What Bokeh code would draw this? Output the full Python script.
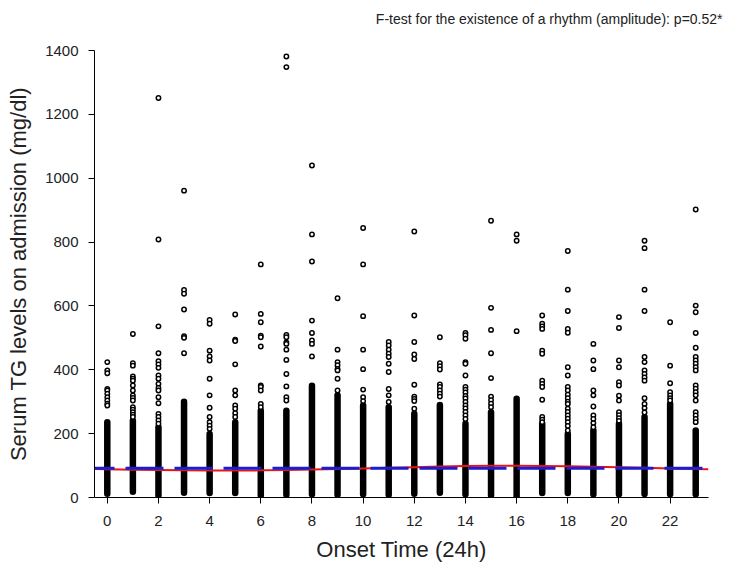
from bokeh.plotting import figure
from bokeh.models import Range1d, FixedTicker, Title
from bokeh.embed import file_html
from bokeh.resources import INLINE

hours = list(range(24))
dense_lo = [12, 18, 6, 15, 14, 14, 6, 9, 10, 9, 10, 9, 12, 15, 10, 6, 3, 14, 14, 10, 10, 11, 10, 10]
dense_hi = [236, 240, 220, 300, 199, 236, 272, 272, 350, 320, 288, 283, 262, 290, 231, 267, 309, 231, 199, 210, 231, 252, 293, 210]

sparse = {
    0: [424, 398, 389, 340, 335, 325, 314, 304, 294, 288],
    1: [512, 421, 413, 379, 372, 366, 351, 335, 320, 312, 304, 283, 275, 267, 259, 252],
    2: [1251, 808, 536, 452, 427, 417, 406, 382, 372, 356, 343, 335, 314, 295, 262, 252, 241, 231],
    3: [961, 650, 638, 589, 505, 500, 452],
    4: [556, 544, 460, 442, 429, 372, 320, 281, 252, 236, 225, 215],
    5: [573, 494, 490, 417, 335, 320, 288, 278, 264, 252],
    6: [730, 575, 549, 507, 502, 473, 351, 346, 335, 293, 283],
    7: [1381, 1348, 509, 502, 486, 481, 463, 431, 387, 348, 314, 304],
    8: [1040, 824, 739, 554, 515, 492, 481, 442],
    9: [624, 463, 424, 414, 403, 398, 372, 335],
    10: [844, 730, 568, 463, 402, 338, 314, 302],
    11: [487, 476, 463, 450, 440, 419, 393, 340, 320, 299],
    12: [833, 570, 487, 448, 434, 353, 316, 309, 302, 278],
    13: [502, 421, 411, 401, 354, 346, 335, 325, 316],
    14: [515, 508, 497, 424, 419, 382, 346, 338, 329, 318, 310, 299, 288, 279, 268, 257, 246],
    15: [867, 594, 525, 452, 374, 316, 305, 294, 283],
    16: [824, 804, 521],
    17: [570, 544, 536, 528, 460, 450, 366, 356, 346, 306, 252, 244, 236],
    18: [772, 651, 584, 528, 516, 408, 382, 346, 335, 322, 311, 300, 293, 278, 268, 257, 247, 236, 224, 210],
    19: [481, 429, 402, 335, 320, 285, 257, 246, 233, 220],
    20: [565, 531, 429, 408, 361, 351, 319, 304, 267, 258, 248, 240],
    21: [804, 781, 651, 584, 440, 424, 398, 387, 376, 366, 311, 293, 280, 266],
    22: [549, 413, 358, 330, 320, 311, 304],
    23: [902, 601, 580, 515, 469, 440, 429, 419, 408, 398, 351, 341, 330, 320, 304, 267, 257, 246, 236],
}

fit_x = [-0.5, 0, 1, 2, 3, 4, 5, 6, 7, 8, 9, 10, 11, 12, 13, 14, 15, 16, 17, 18, 19, 20, 21, 22, 23, 23.5]
fit_y = [89, 88.5, 87, 86, 85, 84.5, 84.5, 85, 86, 87.5, 89, 91, 93, 95, 97, 98.5, 99.5, 99.5, 99, 98, 96.5, 95, 93, 91, 89, 88.5]
mesor = 92

x_ticks = [0, 2, 4, 6, 8, 10, 12, 14, 16, 18, 20, 22]
y_ticks = [0, 200, 400, 600, 800, 1000, 1200, 1400]

FONT = "Liberation Sans"

p = figure(width=733, height=564, output_backend="svg", toolbar_location=None,
           x_range=Range1d(-0.5, 23.5), y_range=Range1d(0, 1400),
           min_border_left=94, min_border_right=25, min_border_top=50, min_border_bottom=67)
p.outline_line_color = None
p.grid.visible = False
p.background_fill_color = "white"

for ax, ticks in ((p.xaxis, x_ticks), (p.yaxis, y_ticks)):
    ax.ticker = FixedTicker(ticks=ticks)
    ax.minor_tick_line_color = None
    ax.major_tick_in = 0
    ax.major_tick_out = 6
    ax.axis_line_color = "black"
    ax.major_tick_line_color = "black"
    ax.major_label_text_font = FONT
    ax.major_label_text_font_size = "15px"
    ax.major_label_text_color = "#222222"
    ax.axis_label_text_font = FONT
    ax.axis_label_text_font_style = "normal"
    ax.axis_label_text_color = "#222222"

p.xaxis.axis_label = "Onset Time (24h)"
p.yaxis.axis_label = "Serum TG levels on admission (mg/dl)"
p.xaxis.axis_label_text_font_size = "22px"
p.yaxis.axis_label_text_font_size = "22px"
p.xaxis.major_label_standoff = 12
p.yaxis.major_label_standoff = 10
p.xaxis.axis_label_standoff = 8
p.yaxis.axis_label_standoff = 11
p.yaxis.major_label_orientation = "horizontal"

# dense parts of each column
p.segment(x0=hours, y0=dense_lo, x1=hours, y1=dense_hi, line_color="black",
          line_width=6.5, line_cap="round")

px, py = [], []
for h in hours:
    for v in sparse[h]:
        px.append(h)
        py.append(v)
p.scatter(px, py, marker="circle", size=4.4, fill_color="white",
          line_color="black", line_width=1.5)

p.line(fit_x, fit_y, line_color="#e8141c", line_width=2)
p.line([-0.5, 23.5], [mesor, mesor], line_color="#1c1cd0", line_width=3,
       line_dash="38 11", line_dash_offset=18)

title = Title(text="F-test for the existence of a rhythm (amplitude): p=0.52*\n ",
              align="right", offset=-14, standoff=12, vertical_align="top",
              text_font=FONT, text_font_size="14px", text_font_style="normal",
              text_color="#222222")
p.add_layout(title, "above")

open("out.html", "w").write(file_html(p, INLINE))
